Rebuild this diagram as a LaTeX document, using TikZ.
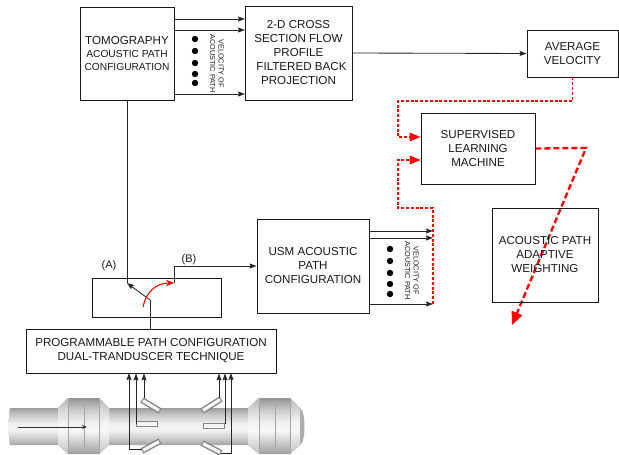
\documentclass[tikz,border=0pt]{standalone}
\usepackage{fontspec}
\setmainfont{Liberation Sans}
\usetikzlibrary{arrows.meta,calc}
\pgfdeclareverticalshading{pipeshade}{100bp}{
 color(0bp)=(black!36); color(25bp)=(black!36); color(34bp)=(black!20); color(46bp)=(black!4);
 color(54bp)=(black!6); color(66bp)=(black!22); color(75bp)=(black!38); color(100bp)=(black!38)}
\pgfdeclareverticalshading{flangeshade}{100bp}{
 color(0bp)=(black!38); color(25bp)=(black!38); color(38bp)=(black!16); color(46bp)=(black!3);
 color(54bp)=(black!6); color(64bp)=(black!20); color(75bp)=(black!42); color(100bp)=(black!42)}
\pgfdeclareverticalshading{endshade}{100bp}{
 color(0bp)=(black!24); color(25bp)=(black!24); color(46bp)=(black!3);
 color(54bp)=(black!5); color(75bp)=(black!28); color(100bp)=(black!28)}
\tikzset{
 x=1pt,y=-1pt,
 blk/.style={draw=black!90,line width=0.85pt,inner sep=0pt,align=center,font=\fontsize{11.6}{14}\selectfont,text=black!90},
 wire/.style={draw=black!85,line width=0.85pt},
 arr/.style={wire,-{Stealth[inset=1pt,length=7pt,width=5pt]}},
 reddots/.style={draw=red,line width=1.3pt,dash pattern=on 3pt off 1.8pt},
 redtip/.style={reddots,-{Triangle[length=11pt,width=8.5pt,fill=red]}},
 redthick/.style={draw=red,line width=2.3pt,dash pattern=on 6pt off 3pt},
 dotn/.style={circle,fill=black,inner sep=0pt,minimum size=6.4pt},
 vel/.style={rotate=-90,align=center,inner sep=0pt,font=\fontsize{7.3}{8.5}\selectfont,text=black!90},
 lab/.style={font=\fontsize{11}{13}\selectfont,text=black!90,inner sep=0pt},
 sensorout/.style={line width=6pt,draw=black!48},
 sensorin/.style={line width=3.2pt,draw=black!4},
 seam/.style={draw=black!35,line width=0.7pt}
}
\begin{document}
\begin{tikzpicture}
\useasboundingbox (0,0) rectangle (619,455);
% pipe
\shade[shading=pipeshade] (10,408) -- (248,408) -- (248,445) -- (10,445) .. controls (8,436) and (8,417) .. (10,408) -- cycle;
\shade[shading=flangeshade] (58,408) -- (68,398) -- (99,398) -- (109,408) -- (109,445) -- (99,454) -- (68,454) -- (58,445) -- cycle;
\shade[shading=endshade] (58,408) -- (68,398) -- (68,454) -- (58,445) -- cycle;
\shade[shading=endshade] (99,398) -- (109,408) -- (109,445) -- (99,454) -- cycle;
\shade[shading=flangeshade] (248,408) -- (259,398) -- (290,398) -- (300,408) -- (300,445) -- (290,454) -- (259,454) -- (248,445) -- cycle;
\shade[shading=endshade] (248,408) -- (259,398) -- (259,454) -- (248,445) -- cycle;
\shade[shading=endshade] (290,398) -- (300,408) -- (300,445) -- (290,454) -- cycle;
\fill[black!32] (300,408) .. controls (306,410) and (306,443) .. (300,445) -- cycle;
\foreach \xx in {68,84,99,259,275,290} \draw[seam] (\xx,398) -- (\xx,454);
% sensors
\draw[sensorout] (142,400) -- (160,411); \draw[sensorin] (143,400.6) -- (159,410.4);
\draw[sensorout] (136,424) -- (158,424); \draw[sensorin] (137,424) -- (157,424);
\draw[sensorout] (142,451) -- (160,441); \draw[sensorin] (143,450.4) -- (159,441.6);
\draw[sensorout] (202,411) -- (221,399); \draw[sensorin] (203,410.4) -- (220,399.6);
\draw[sensorout] (203,426) -- (225,426); \draw[sensorin] (204,426) -- (224,426);
\draw[sensorout] (202,443) -- (221,453); \draw[sensorin] (203,443.6) -- (220,452.4);
% boxes
\node[blk,minimum width=94pt,minimum height=93pt] (tomo) at (127,53.5) {TOMOGRAPHY\\[-1pt]\fontsize{10.2}{12.5}\selectfont ACOUSTIC PATH\\[-1pt]\fontsize{10.2}{12.5}\selectfont CONFIGURATION};
\node[blk,minimum width=107pt,minimum height=94pt] (cross) at (298.5,53) {2-D CROSS\\SECTION FLOW\\PROFILE\\\hspace*{6pt}FILTERED BACK\\PROJECTION};
\node[blk,minimum width=91pt,minimum height=47pt] (avg) at (572.5,53.5) {AVERAGE\\VELOCITY};
\node[blk,minimum width=114pt,minimum height=71pt] (sup) at (478,148.5) {SUPERVISED\\LEARNING\\MACHINE};
\node[blk,minimum width=112pt,minimum height=94pt] (usm) at (313,266) {USM ACOUSTIC\\PATH\\CONFIGURATION};
\node[blk,minimum width=129pt,minimum height=39pt] (sw) at (156.5,297.5) {};
\node[blk,minimum width=250pt,minimum height=44pt] (prog) at (151,351) {PROGRAMMABLE PATH CONFIGURATION\\DUAL-TRANDUSCER TECHNIQUE};
% coordinates
\coordinate (a1) at (245,19); \coordinate (a2) at (245,30); \coordinate (a3) at (245,94);
\coordinate (u1) at (433,231); \coordinate (u2) at (433,238); \coordinate (u3) at (433,304);
\coordinate (pivot) at (150,300); \coordinate (swa) at (127,283); \coordinate (swb) at (174,283);
\coordinate (curve0) at (143,307);
% tomography to cross section
\draw[arr] (tomo.east |- a1) -- (a1);
\draw[arr] (tomo.east |- a2) -- (a2);
\draw[arr] (tomo.east |- a3) -- (a3);
\foreach \yy in {39,51,63,74,83} \node[dotn] at (195,\yy) {};
\node[vel] at (217,63.5) {VELOCITY OF\\ACOUSTIC PATH};
\draw[arr] (cross.east) -- (avg.west);
% usm outputs
\draw[arr] (usm.east |- u1) -- (u1);
\draw[arr] (usm.east |- u2) -- (u2);
\draw[arr] (usm.east |- u3) -- (u3);
\foreach \yy in {249,261,273,284,294} \node[dotn] at (390,\yy) {};
\node[vel] at (412,270.5) {VELOCITY OF\\ACOUSTIC PATH};
% switch
\draw[wire] (tomo.south) -- (swa);
\draw[arr] (pivot) -- (swa);
\draw[wire] (prog.north -| pivot) -- (pivot);
\draw[arr] (swb) |- (usm.west);
\draw[draw=red,line width=1.1pt,-{Stealth[length=8pt,width=6.5pt,fill=red]}] (curve0) .. controls (146,292) and (156,283) .. (swb);
\node[lab] (la) at (109,266) {(A)};
\node[lab] (lb) at (189,260) {(B)};
% red feedback
\coordinate (r1) at (398,101); \coordinate (r2) at (398,208);
\draw[redtip] (avg.south) |- (r1) |- (sup.west |- 0,137);
\draw[redtip] (u3) -- (u3 |- r2) -- (r2) |- (sup.west |- 0,160);
\coordinate (corner) at (586,148); \coordinate (tipend) at (512,325);
\draw[redthick,-{Triangle[length=13pt,width=11pt,fill=red]}] (sup.east) -- (corner) -- (tipend);
\node[blk,minimum width=106pt,minimum height=94pt] (adapt) at (545,255) {ACOUSTIC PATH\\ADAPTIVE\\WEIGHTING};
% wires from sensors
\coordinate (s1) at (142,449); \coordinate (s2) at (136,424); \coordinate (s3) at (144,398);
\coordinate (s4) at (219,398); \coordinate (s5) at (225,424); \coordinate (s6) at (221,453);
\draw[arr] (s1) -| (129,373);
\draw[arr] (s2) -- (s2 |- prog.south);
\draw[arr] (s3) -- (s3 |- prog.south);
\draw[arr] (s4) -- (s4 |- prog.south);
\draw[arr] (s5) -- (s5 |- prog.south);
\draw[arr] (s6) -| (231,373);
\coordinate (f0) at (18,427); \coordinate (f1) at (87,427);
\draw[draw=black!80,line width=0.7pt,-{Stealth[length=5pt,width=4pt]}] (f0) -- (f1);
\end{tikzpicture}
\end{document}
